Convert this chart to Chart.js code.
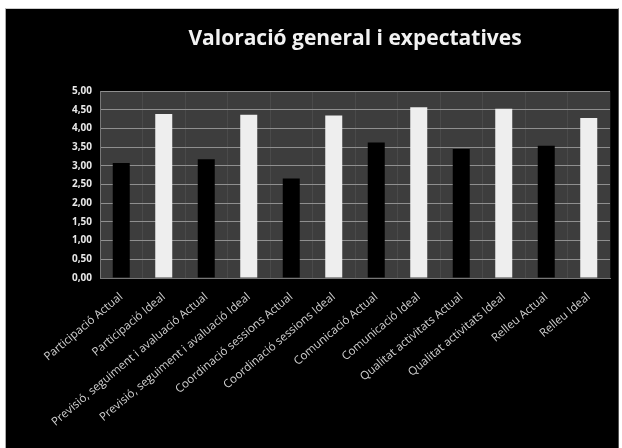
<!DOCTYPE html>
<html>
<head>
<meta charset="utf-8">
<script src="https://cdn.jsdelivr.net/npm/chart.js@4"></script>
<style>
   html, body { margin: 0; padding: 0; background: #fff; }
   #wrap {
      position: absolute; left: 5px; top: 8px; width: 612px; height: 440px;
      background: #000; border-left: 1px solid #aaa; border-right: 1px solid #555;
      border-top: 1px solid #ccc;
   }
</style>
</head>
<body>
<div id="wrap"><canvas id="barChart" width="612" height="439"></canvas></div>
<script>
const labels = [
   'Participació Actual', 'Participació Ideal',
   'Previsió, seguiment i avaluació Actual', 'Previsió, seguiment i avaluació Ideal',
   'Coordinació sessions Actual', 'Coordinació sessions Ideal',
   'Comunicació Actual', 'Comunicació Ideal',
   'Qualitat activitats Actual', 'Qualitat activitats Ideal',
   'Relleu Actual', 'Relleu Ideal'
];
const values = [3.08, 4.39, 3.18, 4.37, 2.66, 4.35, 3.63, 4.57, 3.45, 4.53, 3.54, 4.28];
const kinds = ['actual', 'ideal', 'actual', 'ideal', 'actual', 'ideal',
   'actual', 'ideal', 'actual', 'ideal', 'actual', 'ideal'];

// bar fill: dark bars for "Actual", light bars for "Ideal", shaded across the bar
function barFill(context) {
   const chart = context.chart;
   const el = context.element;
   const kind = kinds[context.dataIndex];
   if (!chart.chartArea || !el || !el.width) return kind == 'ideal' ? '#eee' : '#000';
   const left = el.x - el.width / 2;
   const g = chart.ctx.createLinearGradient(left, 0, left + el.width, 0);
   if (kind == 'ideal') {
      g.addColorStop(0, '#9a9a9a');
      g.addColorStop(0.4, '#ffffff');
      g.addColorStop(0.6, '#f4f4f4');
      g.addColorStop(1, '#a8a8a8');
   } else {
      g.addColorStop(0, '#161616');
      g.addColorStop(0.5, '#000000');
      g.addColorStop(1, '#111111');
   }
   return g;
}

const plotBackground = {
   id: 'plotBackground',
   beforeDraw(chart) {
      const { ctx, chartArea: a } = chart;
      ctx.save();
      ctx.fillStyle = '#3d3d3d';
      ctx.fillRect(a.left, a.top, a.right - a.left, a.bottom - a.top);
      ctx.restore();
   }
};

const ctx = document.getElementById('barChart').getContext('2d');
const barChart = new Chart(ctx, {
   type: 'bar',
   data: {
      labels: labels,
      datasets: [{
         data: values,
         backgroundColor: barFill,
         barPercentage: 0.4,
         categoryPercentage: 1
      }]
   },
   options: {
      responsive: false,
      animation: false,
      layout: { padding: { left: 0, right: 8, top: 0, bottom: 0 } },
      plugins: {
         legend: { display: false },
         tooltip: { enabled: false },
         title: {
            display: true,
            fullSize: false,
            text: 'Valoració general i expectatives',
            color: '#f2f2f2',
            font: { family: 'Open Sans', size: 21, weight: 'bold' },
            padding: { top: 17, bottom: 40 }
         }
      },
      scales: {
         x: {
            grid: { display: true, color: 'rgba(255,255,255,0.07)', drawTicks: false, offset: true },
            border: { color: '#777' },
            ticks: {
               color: '#cfcfcf',
               font: { family: 'Open Sans', size: 11.5 },
               minRotation: 40,
               maxRotation: 40,
               autoSkip: false,
               padding: 12
            },
            afterFit(scale) { scale.height = 170; }
         },
         y: {
            min: 0,
            max: 5,
            grid: { color: '#8f8f8f', drawTicks: false },
            border: { color: '#777' },
            ticks: {
               stepSize: 0.5,
               color: '#e8e8e8',
               padding: 8,
               font: { family: 'Open Sans', size: 10, weight: 'bold' },
               callback: v => v.toFixed(2).replace('.', ',')
            },
            afterFit(scale) { scale.width = 94; }
         }
      }
   },
   plugins: [plotBackground]
});
</script>
</body>
</html>
